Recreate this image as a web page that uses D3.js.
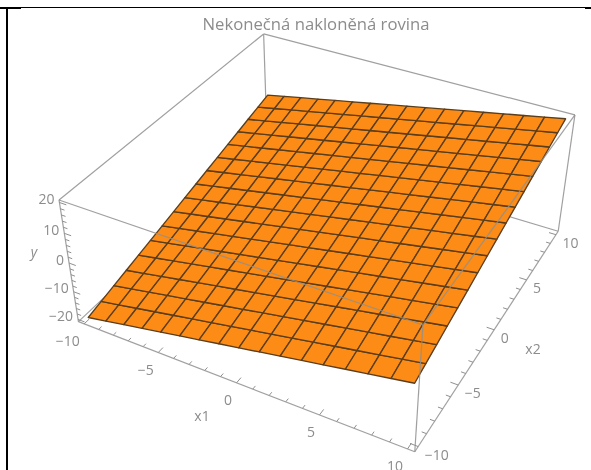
<!DOCTYPE html>
<html>
<head>
<meta charset="utf-8">
<script src="https://cdn.jsdelivr.net/npm/d3@7"></script>
<style>
  html, body { margin: 0; padding: 0; background: #fff; }
  svg { display: block; }
  text { font-family: "Open Sans", sans-serif; fill: #8c8c8c; }
</style>
</head>
<body>
<svg id="chart"></svg>
<script>
// Values
const titleText = 'Nekonečná nakloněná rovina';
const x1Mesh = [-10, -8.75, -7.5, -6.25, -5, -3.75, -2.5, -1.25, 0, 1.25, 2.5, 3.75, 5, 6.25, 7.5, 8.75, 10];
const x2Mesh = [-10, -8.75, -7.5, -6.25, -5, -3.75, -2.5, -1.25, 0, 1.25, 2.5, 3.75, 5, 6.25, 7.5, 8.75, 10];
// y at each mesh crossing, one row per x1
const surfaceY = [
    [-20, -18.75, -17.5, -16.25, -15, -13.75, -12.5, -11.25, -10, -8.75, -7.5, -6.25, -5, -3.75, -2.5, -1.25, 0],
    [-18.75, -17.5, -16.25, -15, -13.75, -12.5, -11.25, -10, -8.75, -7.5, -6.25, -5, -3.75, -2.5, -1.25, 0, 1.25],
    [-17.5, -16.25, -15, -13.75, -12.5, -11.25, -10, -8.75, -7.5, -6.25, -5, -3.75, -2.5, -1.25, 0, 1.25, 2.5],
    [-16.25, -15, -13.75, -12.5, -11.25, -10, -8.75, -7.5, -6.25, -5, -3.75, -2.5, -1.25, 0, 1.25, 2.5, 3.75],
    [-15, -13.75, -12.5, -11.25, -10, -8.75, -7.5, -6.25, -5, -3.75, -2.5, -1.25, 0, 1.25, 2.5, 3.75, 5],
    [-13.75, -12.5, -11.25, -10, -8.75, -7.5, -6.25, -5, -3.75, -2.5, -1.25, 0, 1.25, 2.5, 3.75, 5, 6.25],
    [-12.5, -11.25, -10, -8.75, -7.5, -6.25, -5, -3.75, -2.5, -1.25, 0, 1.25, 2.5, 3.75, 5, 6.25, 7.5],
    [-11.25, -10, -8.75, -7.5, -6.25, -5, -3.75, -2.5, -1.25, 0, 1.25, 2.5, 3.75, 5, 6.25, 7.5, 8.75],
    [-10, -8.75, -7.5, -6.25, -5, -3.75, -2.5, -1.25, 0, 1.25, 2.5, 3.75, 5, 6.25, 7.5, 8.75, 10],
    [-8.75, -7.5, -6.25, -5, -3.75, -2.5, -1.25, 0, 1.25, 2.5, 3.75, 5, 6.25, 7.5, 8.75, 10, 11.25],
    [-7.5, -6.25, -5, -3.75, -2.5, -1.25, 0, 1.25, 2.5, 3.75, 5, 6.25, 7.5, 8.75, 10, 11.25, 12.5],
    [-6.25, -5, -3.75, -2.5, -1.25, 0, 1.25, 2.5, 3.75, 5, 6.25, 7.5, 8.75, 10, 11.25, 12.5, 13.75],
    [-5, -3.75, -2.5, -1.25, 0, 1.25, 2.5, 3.75, 5, 6.25, 7.5, 8.75, 10, 11.25, 12.5, 13.75, 15],
    [-3.75, -2.5, -1.25, 0, 1.25, 2.5, 3.75, 5, 6.25, 7.5, 8.75, 10, 11.25, 12.5, 13.75, 15, 16.25],
    [-2.5, -1.25, 0, 1.25, 2.5, 3.75, 5, 6.25, 7.5, 8.75, 10, 11.25, 12.5, 13.75, 15, 16.25, 17.5],
    [-1.25, 0, 1.25, 2.5, 3.75, 5, 6.25, 7.5, 8.75, 10, 11.25, 12.5, 13.75, 15, 16.25, 17.5, 18.75],
    [0, 1.25, 2.5, 3.75, 5, 6.25, 7.5, 8.75, 10, 11.25, 12.5, 13.75, 15, 16.25, 17.5, 18.75, 20]
];
const x1Ticks = [-10, -9, -8, -7, -6, -5, -4, -3, -2, -1, 0, 1, 2, 3, 4, 5, 6, 7, 8, 9, 10];
const x2Ticks = [-10, -9, -8, -7, -6, -5, -4, -3, -2, -1, 0, 1, 2, 3, 4, 5, 6, 7, 8, 9, 10];
const yTicks = [-20, -18, -16, -14, -12, -10, -8, -6, -4, -2, 0, 2, 4, 6, 8, 10, 12, 14, 16, 18, 20];
const x1Labels = [-10, -5, 0, 5, 10];
const x2Labels = [-10, -5, 0, 5, 10];
const yLabels = [-20, -10, 0, 10, 20];

const width = 591;
const height = 470;

const svg = d3.select('#chart')
    .attr('width', width)
    .attr('height', height);

// Box limits: the plot range with the small padding of the 3D frame
const x1Range = [-10.4, 10.4];
const x2Range = [-10.4, 10.4];
const yRange = [-20.8, 20.8];

// Scales to unit cube, the camera below works on those
const sx1 = d3.scaleLinear().domain(x1Range).range([0, 1]);
const sx2 = d3.scaleLinear().domain(x2Range).range([0, 1]);
const sy = d3.scaleLinear().domain(yRange).range([0, 1]);

// Where known 3D spots land on the screen, used to fit the camera
const calibration = [
    [-10.4, -10.4, -20.8, 77, 321],
    [10.4, -10.4, -20.8, 414, 452],
    [10.4, 10.4, -20.8, 558, 230],
    [-10.4, -10.4, 20.8, 59, 200],
    [10.4, -10.4, 20.8, 421, 323],
    [10.4, 10.4, 20.8, 575, 116],
    [-10.4, 10.4, 20.8, 264, 33],
    [-10, -10, -20, 90, 318],
    [-10, 10, 0, 267, 96],
    [10, -10, 0, 417, 385],
    [10, 10, 20, 566, 119]
];

// Least squares fit of a 3x4 projection matrix (last entry fixed to 1)
function fitCamera(points) {
    const n = 11;
    const A = d3.range(n).map(() => new Array(n + 1).fill(0));
    function addRow(row, rhs) {
        for (let i = 0; i < n; i++) {
            for (let j = 0; j < n; j++) A[i][j] += row[i] * row[j];
            A[i][n] += row[i] * rhs;
        }
    }
    points.forEach(([a, b, c, u, v]) => {
        const X = sx1(a), Y = sx2(b), Z = sy(c);
        addRow([X, Y, Z, 1, 0, 0, 0, 0, -u * X, -u * Y, -u * Z], u);
        addRow([0, 0, 0, 0, X, Y, Z, 1, -v * X, -v * Y, -v * Z], v);
    });
    // Gaussian elimination
    for (let i = 0; i < n; i++) {
        let pivot = i;
        for (let r = i + 1; r < n; r++) {
            if (Math.abs(A[r][i]) > Math.abs(A[pivot][i])) pivot = r;
        }
        [A[i], A[pivot]] = [A[pivot], A[i]];
        for (let r = 0; r < n; r++) {
            if (r === i) continue;
            const f = A[r][i] / A[i][i];
            for (let c = i; c <= n; c++) A[r][c] -= f * A[i][c];
        }
    }
    return d3.range(n).map(i => A[i][n] / A[i][i]);
}

const cam = fitCamera(calibration);

function project(a, b, c) {
    const X = sx1(a), Y = sx2(b), Z = sy(c);
    const w = cam[8] * X + cam[9] * Y + cam[10] * Z + 1;
    return [
        (cam[0] * X + cam[1] * Y + cam[2] * Z + cam[3]) / w,
        (cam[4] * X + cam[5] * Y + cam[6] * Z + cam[7]) / w
    ];
}

const [x0, x1] = x1Range;
const [z0, z1] = x2Range;
const [y0, y1] = yRange;
const line = d3.line();

// Soft edge like the source picture
svg.append('defs').append('filter')
    .attr('id', 'soft')
    .append('feGaussianBlur')
    .attr('stdDeviation', 0.4);

const plot = svg.append('g').attr('filter', 'url(#soft)');

function drawEdges(group, edges, color) {
    group.selectAll('path')
        .data(edges)
        .enter()
        .append('path')
        .attr('d', d => line([project(...d[0]), project(...d[1])]))
        .attr('fill', 'none')
        .attr('stroke', color)
        .attr('stroke-width', 1.2);
}

// Box edges behind the surface
drawEdges(plot.append('g'), [
    [[x0, z0, y0], [x0, z1, y0]],
    [[x1, z1, y0], [x0, z1, y0]],
    [[x0, z1, y0], [x0, z1, y1]],
    [[x0, z0, y1], [x0, z1, y1]],
    [[x0, z1, y1], [x1, z1, y1]],
    [[x1, z1, y0], [x1, z1, y1]]
], '#a0a0a0');

// Surface cells
const cells = [];
for (let i = 0; i < x1Mesh.length - 1; i++) {
    for (let j = 0; j < x2Mesh.length - 1; j++) {
        cells.push([
            project(x1Mesh[i], x2Mesh[j], surfaceY[i][j]),
            project(x1Mesh[i + 1], x2Mesh[j], surfaceY[i + 1][j]),
            project(x1Mesh[i + 1], x2Mesh[j + 1], surfaceY[i + 1][j + 1]),
            project(x1Mesh[i], x2Mesh[j + 1], surfaceY[i][j + 1])
        ]);
    }
}

plot.append('g')
    .selectAll('path')
    .data(cells)
    .enter()
    .append('path')
    .attr('d', d => line(d) + 'Z')
    .attr('fill', '#fc8c14')
    .attr('stroke', '#5a3d1c')
    .attr('stroke-width', 1.35)
    .attr('stroke-linejoin', 'round');

// Box edges in front of the surface
drawEdges(plot.append('g').attr('stroke-opacity', 0.85), [
    [[x0, z0, y1], [x1, z0, y1]],
    [[x1, z0, y1], [x1, z1, y1]],
    [[x0, z0, y0], [x1, z0, y0]],
    [[x1, z0, y0], [x1, z1, y0]],
    [[x0, z0, y0], [x0, z0, y1]],
    [[x1, z0, y0], [x1, z0, y1]]
], '#8f8f8f');

// Tick marks
function drawTicks(ticks, labels, toPoints) {
    plot.append('g')
        .selectAll('path')
        .data(ticks)
        .enter()
        .append('path')
        .attr('d', t => line(toPoints(t, labels.includes(t) ? 1 : 0.6)))
        .attr('fill', 'none')
        .attr('stroke', '#8f8f8f')
        .attr('stroke-width', 1);
}

drawTicks(x1Ticks, x1Labels, (t, k) => [project(t, z0, y0), project(t, z0 + 0.45 * k, y0)]);
drawTicks(x2Ticks, x2Labels, (t, k) => [project(x1, t, y0), project(x1 - 0.45 * k, t, y0)]);
drawTicks(yTicks, yLabels, (t, k) => [project(x0, z0, t), project(x0 + 0.45 * k, z0, t)]);

function fmt(v) { return v < 0 ? '\u2212' + Math.abs(v) : String(v); }

function drawLabels(values, toPoint, dx, dy, anchor) {
    plot.append('g')
        .selectAll('text')
        .data(values)
        .enter()
        .append('text')
        .attr('x', v => toPoint(v)[0] + dx)
        .attr('y', v => toPoint(v)[1] + dy)
        .attr('text-anchor', anchor)
        .attr('dominant-baseline', 'central')
        .attr('font-size', 14)
        .text(fmt);
}

drawLabels(x1Labels, v => project(v, z0, y0), -4.5, 17, 'end');
drawLabels(x2Labels, v => project(x1, v, y0), 6.5, 7.5, 'start');
drawLabels(yLabels, v => project(x0, z0, v), -5, -4, 'end');

// Axis names and title
plot.append('text').attr('x', 202).attr('y', 415)
    .attr('text-anchor', 'middle').attr('dominant-baseline', 'central')
    .attr('font-size', 14).text('x1');
plot.append('text').attr('x', 533).attr('y', 348)
    .attr('text-anchor', 'middle').attr('dominant-baseline', 'central')
    .attr('font-size', 14).text('x2');
plot.append('text').attr('x', 34).attr('y', 251)
    .attr('text-anchor', 'middle').attr('dominant-baseline', 'central')
    .attr('font-size', 14).attr('font-style', 'italic').text('y');
plot.append('text').attr('x', 316).attr('y', 24)
    .attr('text-anchor', 'middle').attr('dominant-baseline', 'central')
    .attr('font-size', 15.5)
    .attr('textLength', 227).attr('lengthAdjust', 'spacingAndGlyphs')
    .text(titleText);

// Black frame of the page the chart was pasted in
const frame = svg.append('g').attr('fill', '#000');
frame.append('rect').attr('x', 0).attr('y', 7).attr('width', width).attr('height', 1);
frame.append('rect').attr('x', 0).attr('y', 7).attr('width', 21).attr('height', 2);
frame.append('rect').attr('x', 585).attr('y', 7).attr('width', 6).attr('height', 2);
frame.append('rect').attr('x', 6).attr('y', 7).attr('width', 2).attr('height', height - 7);
</script>
</body>
</html>
